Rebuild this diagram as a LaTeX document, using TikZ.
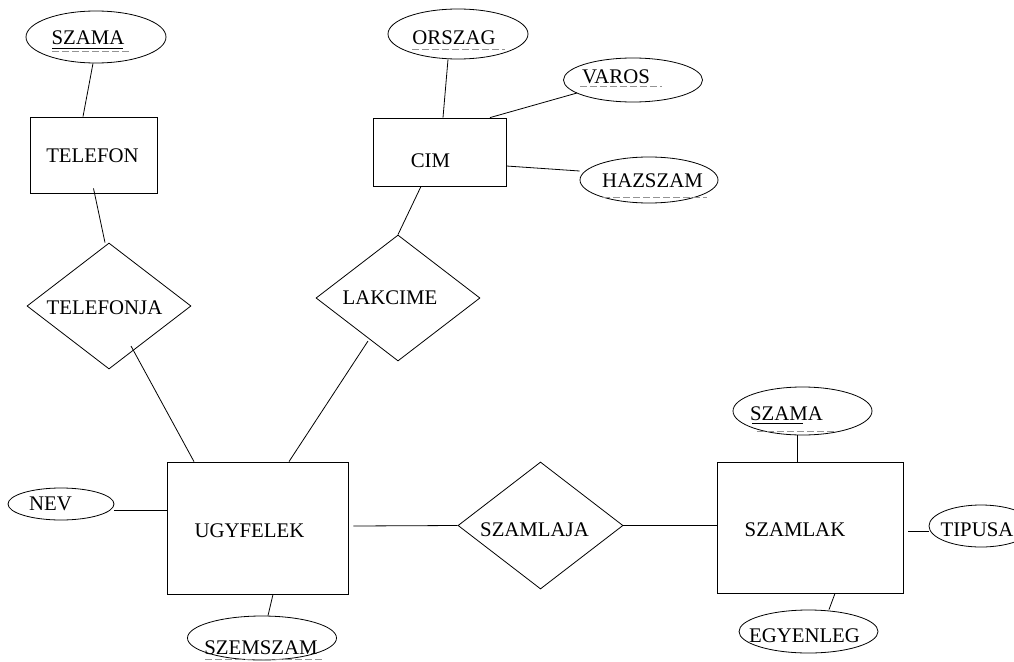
\documentclass[tikz,border=0pt]{standalone}
\usepackage{fontspec}
\setmainfont{Liberation Serif}
\usetikzlibrary{shapes.geometric}
\tikzset{
  every node/.style={font=\fontsize{20.8}{24}\selectfont},
  lw/.style={line width=0.8pt},
  ent/.style={draw, lw, rectangle, inner sep=0pt},
  rel/.style={draw, lw, diamond, inner sep=0pt},
  attr/.style={draw, lw, ellipse, inner sep=0pt},
  lbl/.style={anchor=base, inner sep=0pt},
  conn/.style={lw},
  keyline/.style={line width=0.8pt, gray!85, dash pattern=on 7pt off 3pt},
  keysolid/.style={line width=0.7pt},
}
\begin{document}
\begin{tikzpicture}[x=1pt,y=-1pt]
\useasboundingbox (0,0) rectangle (1014,661);
% entities
\node[ent, minimum width=127pt, minimum height=76pt] (telefon) at (93.5,155) {};
\node[ent, minimum width=133pt, minimum height=68pt] (cim) at (439.5,152) {};
\node[ent, minimum width=181pt, minimum height=132pt] (ugyfelek) at (257.5,528) {};
\node[ent, minimum width=186pt, minimum height=131pt] (szamlak) at (810,527.5) {};
% relationships
\node[rel, minimum width=164pt, minimum height=126pt] (telefonja) at (109,306) {};
\node[rel, minimum width=164pt, minimum height=126pt] (lakcime) at (398,298) {};
\node[rel, minimum width=165pt, minimum height=127pt] (szamlaja) at (540.5,525.5) {};
% attributes
\node[attr, minimum width=140pt, minimum height=52pt] (szama1) at (96,37) {};
\node[attr, minimum width=140pt, minimum height=50pt] (orszag) at (458,34) {};
\node[attr, minimum width=139pt, minimum height=44pt] (varos) at (633,80) {};
\node[attr, minimum width=138pt, minimum height=46pt] (hazszam) at (649,180) {};
\node[attr, minimum width=106pt, minimum height=32pt] (nev) at (61,504) {};
\node[attr, minimum width=149pt, minimum height=44pt] (szemszam) at (262,638) {};
\node[attr, minimum width=139pt, minimum height=48pt] (szama2) at (802.5,411) {};
\node[attr, minimum width=104pt, minimum height=42pt] (tipusa) at (981,526) {};
\node[attr, minimum width=139pt, minimum height=43pt] (egyenleg) at (808.5,631.5) {};
% labels
\node[lbl] (tTelefon) at (92.5,162) {TELEFON};
\node[lbl] (tCim) at (430.5,167) {CIM};
\node[lbl] (tUgyfelek) at (249.5,537) {UGYFELEK};
\node[lbl] (tSzamlak) at (795,536) {SZAMLAK};
\node[lbl] (tTelefonja) at (104.5,314) {TELEFONJA};
\node[lbl] (tLakcime) at (390,304) {LAKCIME};
\node[lbl] (tSzamlaja) at (534.5,536) {SZAMLAJA};
\node[lbl] (tSzama1) at (88,44.5) {SZAMA};
\node[lbl] (tOrszag) at (454,45) {ORSZAG};
\node[lbl] (tVaros) at (616,83) {VAROS};
\node[lbl] (tHazszam) at (652.5,187) {HAZSZAM};
\node[lbl] (tNev) at (50.5,510) {NEV};
\node[lbl] (tSzemszam) at (261,654) {SZEMSZAM};
\node[lbl] (tSzama2) at (786.5,420) {SZAMA};
\node[lbl] (tTipusa) at (977,536) {TIPUSA};
\node[lbl] (tEgyenleg) at (804.5,642) {EGYENLEG};
% key underlines
\draw[keysolid] (52,48) -- (123,48);
\draw[keyline] (52,51) -- (132,51);
\draw[keyline] (412,49) -- (505,49);
\draw[keyline] (580,86) -- (662,86);
\draw[keyline] (603,197) -- (707,197);
\draw[keyline] (205,659) -- (323,659);
\draw[keysolid] (752,423) -- (803,423);
\draw[keyline] (757,431) -- (837,431);
% connectors
\draw[conn] ([xshift=-3pt]szama1.south) -- ([xshift=-10.5pt]telefon.north);
\draw[conn] ([yshift=5pt]telefon.south) -- ([xshift=-4pt]telefonja.north);
\draw[conn] ([xshift=22pt,yshift=-40pt]telefonja.center) -- ([xshift=-63.5pt]ugyfelek.north);
\draw[conn] ([xshift=-30pt,yshift=-43pt]lakcime.center) -- ([xshift=31.5pt]ugyfelek.north);
\draw[conn] ([xshift=-18.5pt]cim.south) -- (lakcime.north);
\draw[conn] ([xshift=-10pt]orszag.south) -- ([xshift=3.5pt]cim.north);
\draw[conn] ([xshift=-56pt,yshift=-13pt]varos.center) -- ([xshift=50.5pt]cim.north);
\draw[conn] ([yshift=-14pt]cim.east) -- ([yshift=9pt]hazszam.west);
\draw[conn] ([yshift=-6pt]nev.east) -- ([yshift=18pt]ugyfelek.west);
\draw[conn] ([xshift=15.5pt]ugyfelek.south) -- ([xshift=6pt]szemszam.north);
\draw[conn] ([xshift=5pt,yshift=2pt]ugyfelek.east) -- (szamlaja.west);
\draw[conn] (szamlaja.east) -- (szamlaja.east -| szamlak.west);
\draw[conn] ([xshift=-5.5pt]szama2.south) -- ([xshift=-13pt]szamlak.north);
\draw[conn] ([xshift=5pt,yshift=-3.5pt]szamlak.east) -- ([yshift=-5pt]tipusa.west);
\draw[conn] ([xshift=25pt]szamlak.south) -- ([xshift=20.5pt]egyenleg.north);
\end{tikzpicture}
\end{document}
